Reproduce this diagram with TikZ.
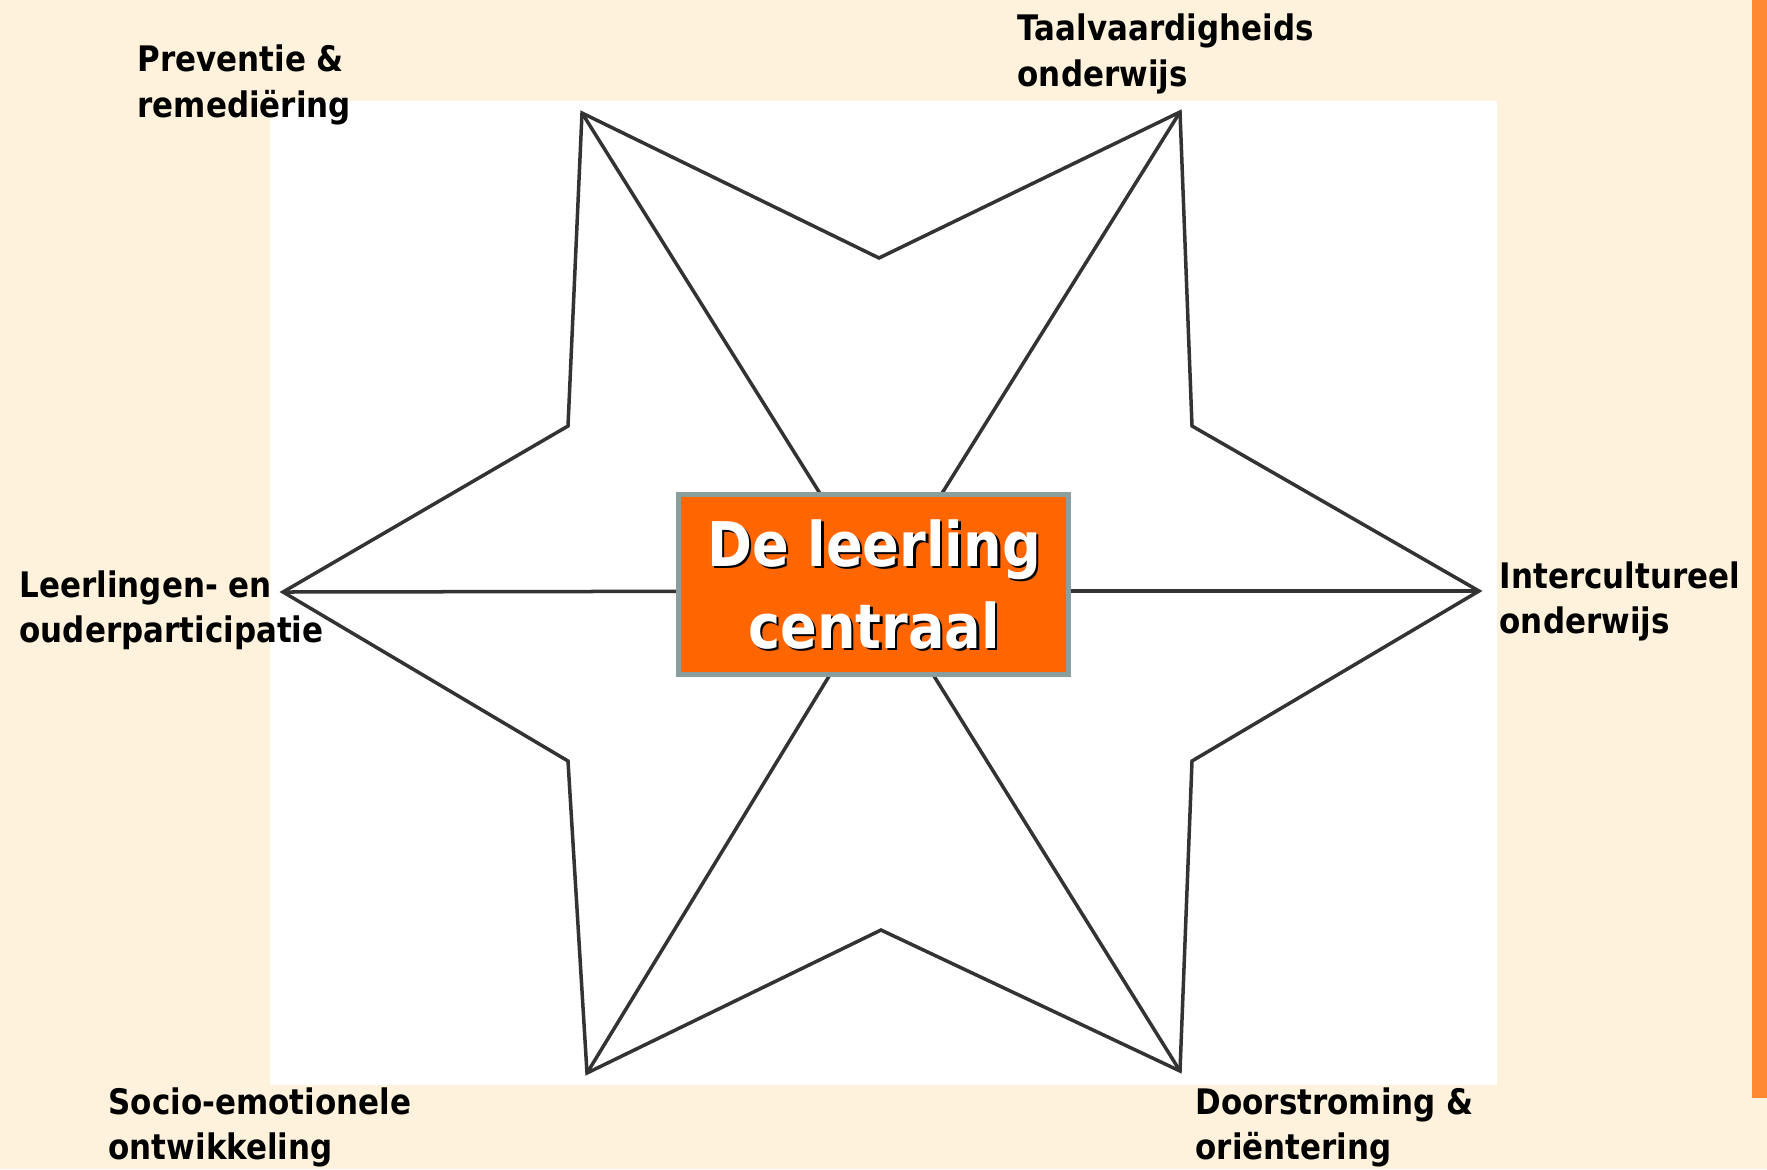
\documentclass[tikz,border=0pt]{standalone}
\usepackage{fontspec}
\setmainfont{DejaVu Sans}[FakeStretch=0.88]
\definecolor{cream}{HTML}{FEF2DC}
\definecolor{barorange}{HTML}{FF8833}
\definecolor{boxorange}{HTML}{FF6600}
\definecolor{boxborder}{HTML}{8A9E9E}
\definecolor{starink}{HTML}{333333}
\begin{document}
\begin{tikzpicture}[x=0.01cm,y=-0.01cm,
  starline/.style={draw=starink,line width=0.035cm,line join=miter},
  lbl/.style={font=\bfseries\fontsize{10}{12.8}\selectfont,align=left,inner sep=0pt,anchor=base west},
  ctext/.style={font=\bfseries\fontsize{17.5}{20}\selectfont,text=white,inner sep=0pt,anchor=base},
  cshadow/.style={font=\bfseries\fontsize{17.5}{20}\selectfont,text=black,inner sep=0pt,anchor=base},
  centerbox/.style={draw=boxborder,fill=boxorange,line width=0.05cm,minimum width=3.9cm,minimum height=1.8cm,inner sep=0pt}]
\useasboundingbox (0,0) rectangle (1767,1169);
\fill[cream] (0,0) rectangle (1767,1169);
\fill[barorange] (1752,0) rectangle (1767,1098);
\fill[white] (270,101) rectangle (1497,1085);
% star points
\coordinate (TL) at (582,113);
\coordinate (Tv) at (879,258);
\coordinate (TR) at (1180,112);
\coordinate (UR) at (1192,426);
\coordinate (R) at (1479,591);
\coordinate (LR) at (1192,761);
\coordinate (BR) at (1180,1071);
\coordinate (Bv) at (881,930);
\coordinate (BL) at (587,1073);
\coordinate (LL) at (568,761);
\coordinate (L) at (283,592);
\coordinate (UL) at (568,426);
\coordinate (C) at (881,591);
\draw[starline] (TL) -- (Tv) -- (TR) -- (UR) -- (R) -- (LR) -- (BR) -- (Bv) -- (BL) -- (LL) -- (L) -- (UL) -- cycle;
\foreach \p in {TL,TR,L,R,BL,BR} \draw[starline] (\p) -- (C);
% center box
\node[centerbox] (box) at (873.5,584.5) {};
\node[cshadow] (s1) at (876.5,568.5) {De leerling};
\node[cshadow] (s2) at (876.5,650.5) {centraal};
\node[ctext] (t1) at (874,566) {De leerling};
\node[ctext] (t2) at (874,648) {centraal};
% labels
\node[lbl] (prev) at (137,117) {Preventie \&\\remediëring};
\node[lbl] (taal) at (1017,86) {Taalvaardigheids\\onderwijs};
\node[lbl] (leer) at (19,642) {Leerlingen- en\\ouderparticipatie};
\node[lbl] (inter) at (1499,633) {Intercultureel\\onderwijs};
\node[lbl] (socio) at (108,1159) {Socio-emotionele\\ontwikkeling};
\node[lbl] (door) at (1195,1159) {Doorstroming \&\\oriëntering};
\end{tikzpicture}
\end{document}
